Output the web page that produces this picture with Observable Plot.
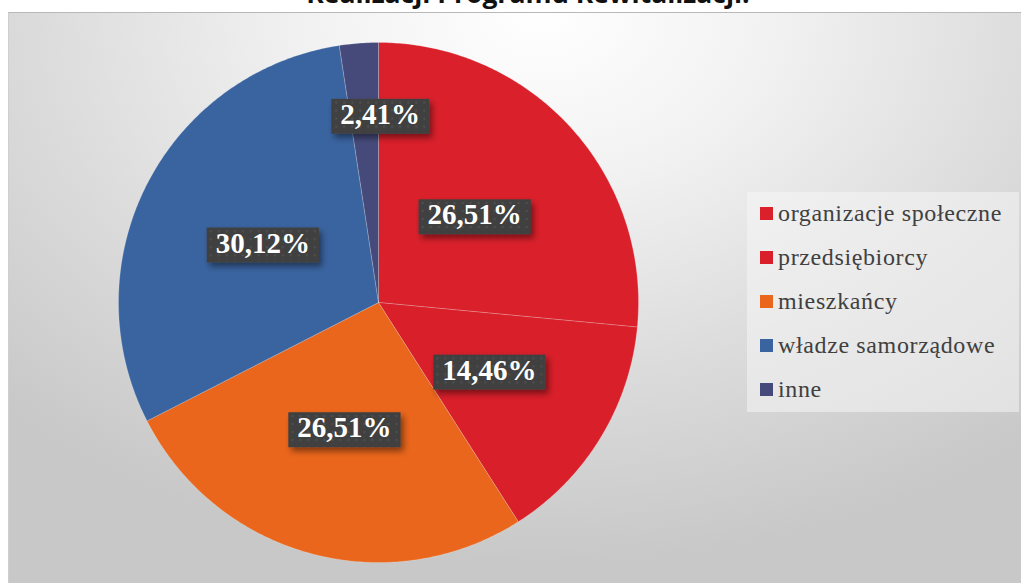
<!DOCTYPE html>
<html><head><meta charset="utf-8">
<script src="https://cdn.jsdelivr.net/npm/d3@7"></script>
<script src="https://cdn.jsdelivr.net/npm/@observablehq/plot@0.6"></script>
<style>
body{margin:0;width:1021px;height:583px;overflow:hidden;background:#fff;position:relative;}
#bg{position:absolute;left:8px;top:12px;width:1020px;height:580px;
 background:radial-gradient(ellipse 75% 95% at 52% 0%, #ffffff 0%, #f2f2f2 30%, #dcdcdc 65%, #c8c8c8 100%);
 border-top:1px solid #b8b8b8;border-left:1px solid #cfcfcf;}
#title{position:absolute;top:-22px;left:0;width:1056px;text-align:center;font:bold 26.5px "Open Sans";color:#111;line-height:30px;}
#chart{position:absolute;left:0;top:0;}
#legend{position:absolute;left:747px;top:192px;width:272px;height:220px;background:rgba(245,245,245,0.55);}
.li{position:absolute;left:13px;height:30px;display:flex;align-items:center;font:24px "Liberation Serif";color:#404040;white-space:nowrap;}
.sw{width:13px;height:13px;margin-right:5px;flex:none;}
</style></head>
<body>
<div id="bg"></div>
<div id="title">Realizacji Programu Rewitalizacji.</div>
<div id="chart"></div>
<div id="legend"></div>
<script>
const categories = ["organizacje społeczne","przedsiębiorcy","mieszkańcy","władze samorządowe","inne"];
const shares = [26.51,14.46,26.51,30.12,2.41];
const labels = ["26,51%","14,46%","26,51%","30,12%","2,41%"];
const colors = ["#DA202B","#D91F2A","#EA661C","#3A64A0","#454A7A"];

const arcs = d3.pie().sort(null).value(d => d)(shares);
const rows = [];
arcs.forEach((a, i) => {
  rows.push({key: i, x: 0, y: 0, color: colors[i]});
  const n = Math.max(4, Math.ceil((a.endAngle - a.startAngle) / 0.01));
  for (let k = 0; k <= n; k++) {
    const t = a.startAngle + (a.endAngle - a.startAngle) * k / n;
    rows.push({key: i, x: Math.sin(t), y: Math.cos(t), color: colors[i]});
  }
  rows.push({key: i, x: 0, y: 0, color: colors[i]});
});
const lab = arcs.map((a, i) => {
  const m = (a.startAngle + a.endAngle) / 2;
  const r = shares[i] < 5 ? 0.725 : 0.5;
  return {x: r * Math.sin(m), y: r * Math.cos(m), text: labels[i], small: shares[i] < 5};
});
const cx = 378, cy = 302, R = 260;
const textOpts = {x: "x", y: "y", text: "text", fill: "white", fontSize: 29, fontWeight: "bold",
  fontFamily: "Liberation Serif"};
const chart = Plot.plot({
  width: 1021, height: 583, margin: 0,
  style: {background: "transparent", overflow: "visible"},
  x: {domain: [-1, 1], range: [cx - R, cx + R], axis: null},
  y: {domain: [-1, 1], range: [cy + R, cy - R], axis: null},
  color: {type: "identity"},
  marks: [
    Plot.line(rows, {x: "x", y: "y", z: "key", fill: "color", stroke: "rgba(255,255,255,0.25)", strokeWidth: 0.8, curve: "linear"}),
    Plot.text(lab.filter(d => !d.small), textOpts),
    Plot.text(lab.filter(d => d.small), {...textOpts, dx: 16})
  ]
});
document.getElementById("chart").appendChild(chart);

// label boxes
const svg = d3.select(chart);
const defs = svg.insert("defs", ":first-child");
const pat = defs.append("pattern").attr("id", "dots").attr("width", 8).attr("height", 8).attr("patternUnits", "userSpaceOnUse");
pat.append("rect").attr("width", 8).attr("height", 8).attr("fill", "#404040");
pat.append("circle").attr("cx", 4).attr("cy", 4).attr("r", 1.3).attr("fill", "#4e4e4e");
const f = defs.append("filter").attr("id", "sh").attr("x", "-20%").attr("y", "-30%").attr("width", "150%").attr("height", "180%");
f.append("feDropShadow").attr("dx", 3).attr("dy", 4).attr("stdDeviation", 3).attr("flood-color", "#000").attr("flood-opacity", 0.45);
svg.selectAll("text").each(function() {
  const b = this.getBBox();
  const tr = this.getAttribute("transform");
  const rect = document.createElementNS("http://www.w3.org/2000/svg", "rect");
  this.parentNode.insertBefore(rect, this);
  d3.select(rect).attr("x", b.x - 9).attr("y", b.y + 1).attr("width", b.width + 18).attr("height", b.height + 3)
    .attr("fill", "url(#dots)").attr("filter", "url(#sh)").attr("transform", tr);
});

// legend
const leg = d3.select("#legend");
const spans = [];
categories.forEach((c, i) => {
  const it = leg.append("div").attr("class", "li").style("top", (6 + i * 44) + "px");
  it.append("div").attr("class", "sw").style("background", colors[i]);
  spans.push(it.append("span").text(c).node());
});
// fit the longest legend entry to the reference's width (~224px)
const w0 = spans[0].getBoundingClientRect().width;
const ls = Math.max(0, (224 - w0) / categories[0].length);
spans.forEach(s => s.style.letterSpacing = ls + "px");
</script>
</body></html>
